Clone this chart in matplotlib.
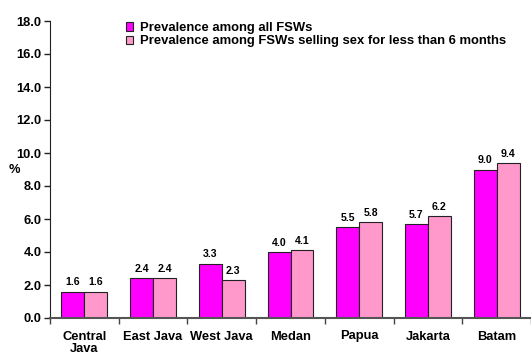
import numpy as np
import matplotlib.pyplot as plt

regions = ['Central\nJava', 'East Java', 'West Java', 'Medan', 'Papua', 'Jakarta', 'Batam']
all_fsw = [1.6, 2.4, 3.3, 4.0, 5.5, 5.7, 9.0]
new_fsw = [1.6, 2.4, 2.3, 4.1, 5.8, 6.2, 9.4]
series_names = ['Prevalence among all FSWs',
                'Prevalence among FSWs selling sex for less than 6 months']

plt.rcParams['font.family'] = ['Liberation Sans', 'DejaVu Sans']
plt.rcParams['font.weight'] = 'bold'

fig = plt.figure(figsize=(5.31, 3.52), dpi=100)
ax = fig.add_axes([50 / 531, 34 / 352, 481 / 531, 297 / 352])

x = np.arange(len(regions))
w = 1 / 3
b1 = ax.bar(x - w / 2, all_fsw, w, color='#FF00FF', edgecolor='#222222', linewidth=0.8,
            label=series_names[0])
b2 = ax.bar(x + w / 2, new_fsw, w, color='#FF99CC', edgecolor='#222222', linewidth=0.8,
            label=series_names[1])

# value labels above bars
for rects, vals in [(b1, all_fsw), (b2, new_fsw)]:
    for r, v in zip(rects, vals):
        ax.text(r.get_x() + r.get_width() / 2, v + 0.25, '%.1f' % v,
                ha='center', va='bottom', fontsize=7.6, fontweight='bold')

ax.set_xlim(-0.5, len(regions) - 0.5)
ax.set_ylim(0, 18)
ax.set_yticks(np.arange(0, 18.1, 2))
ax.set_yticklabels(['%.1f' % t for t in np.arange(0, 18.1, 2)], fontsize=9.3, fontweight='bold')
ax.set_xticks(x)
ax.set_xticklabels(regions, fontsize=9.3, fontweight='bold', linespacing=1.0)
ax.tick_params(axis='x', length=0, pad=9)
ax.set_xticks(np.arange(-0.5, len(regions)), minor=True)
ax.tick_params(axis='x', which='minor', length=4, width=1, color='#444444')
ax.tick_params(axis='y', length=4, width=1, color='#222222', pad=2)

for s in ['top', 'right']:
    ax.spines[s].set_visible(False)
ax.spines['left'].set_color('#222222')
ax.spines['bottom'].set_color('#555555')
ax.spines['bottom'].set_linewidth(1.5)

fig.text(14 / 531, 1 - 170 / 352, '%', fontsize=9.3, fontweight='bold', ha='center', va='center')

leg = ax.legend(loc='upper left', bbox_to_anchor=(69 / 481, 1.018), frameon=False,
                fontsize=9.4, handlelength=0.6, handleheight=0.6, handletextpad=0.5,
                labelspacing=0.1, borderpad=0)

fig.savefig('out.png', dpi=100)
